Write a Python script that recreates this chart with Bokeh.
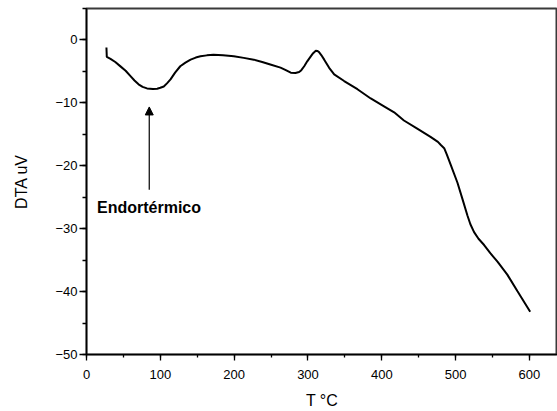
from bokeh.plotting import figure
from bokeh.models import SingleIntervalTicker, Range1d, Arrow, NormalHead, Label
from bokeh.embed import file_html
from bokeh.resources import INLINE

# DTA curve
temp_c = [27, 27.5, 32.5, 39, 46, 53, 59.6, 65, 70.5, 76, 82, 90, 95.7, 100,
          104.7, 109, 113.8, 120, 127, 134, 141, 148, 154.4, 163, 172, 185,
          199.5, 213, 226.6, 238, 249, 262.8, 270, 276.7, 283, 288, 291,
          294.9, 299, 303.8, 307, 310.6, 313, 315, 318, 322, 328.7, 335.5,
          349, 367, 385, 403, 416.7, 430, 448, 466, 476, 480, 484.5, 488,
          493.4, 502.5, 509.3, 516, 520, 525, 531, 538.6, 547, 556.7, 570,
          583.8, 601]
dta_uv = [-1.2, -2.7, -3.0, -3.5, -4.2, -4.9, -5.75, -6.45, -7.05, -7.45,
          -7.7, -7.8, -7.75, -7.6, -7.4, -6.9, -6.27, -5.2, -4.18, -3.6,
          -3.13, -2.8, -2.6, -2.45, -2.35, -2.45, -2.6, -2.85, -3.13, -3.5,
          -3.9, -4.4, -4.8, -5.2, -5.25, -5.1, -4.8, -4.18, -3.4, -2.6,
          -2.1, -1.72, -1.75, -1.93, -2.4, -3.13, -4.43, -5.48, -6.53,
          -7.83, -9.3, -10.55, -11.5, -12.8, -14.1, -15.4, -16.2, -16.7,
          -17.2, -18.2, -19.85, -22.7, -25.3, -27.9, -29.3, -30.55, -31.6,
          -32.6, -33.9, -35.25, -37.3, -39.95, -43.2]

annot_text = "Endortérmico"
annot_x = 14.2
annot_y = -26.6
arrow_x = 85
arrow_y_tail = -23.8
arrow_y_tip = -10.65

x_label = "T °C"
y_label = "DTA uV"

FONT = "Liberation Sans"

p = figure(width=557, height=411, output_backend="svg", toolbar_location=None,
           x_range=Range1d(0, 638), y_range=Range1d(-50, 5),
           min_border_left=86, min_border_right=0, min_border_top=8,
           min_border_bottom=52)
p.outline_line_color = "#3a3a3a"
p.outline_line_width = 2
p.xgrid.visible = False
p.ygrid.visible = False
p.background_fill_color = "white"
p.border_fill_color = "white"

xa = p.xaxis[0]
ya = p.yaxis[0]
xa.ticker = SingleIntervalTicker(interval=100, num_minor_ticks=2)
ya.ticker = SingleIntervalTicker(interval=10, num_minor_ticks=2)
xa.axis_label = x_label
ya.axis_label = y_label
for ax in (xa, ya):
    ax.axis_line_color = "black"
    ax.axis_line_width = 1.5
    ax.major_tick_line_color = "black"
    ax.minor_tick_line_color = "black"
    ax.major_tick_line_width = 1.3
    ax.minor_tick_line_width = 1.3
    ax.major_tick_in = 0
    ax.minor_tick_in = 0
    ax.major_label_text_font = FONT
    ax.major_label_text_font_size = "13px"
    ax.major_label_text_color = "black"
    ax.axis_label_text_font = FONT
    ax.axis_label_text_font_size = "16px"
    ax.axis_label_text_font_style = "normal"
    ax.axis_label_text_color = "black"
xa.major_tick_out = 6
xa.minor_tick_out = 3
xa.major_label_standoff = 9
xa.axis_label_standoff = 10
ya.major_tick_out = 7
ya.minor_tick_out = 4
ya.major_label_standoff = 2
ya.axis_label_standoff = 22

p.line(temp_c, dta_uv, line_color="black", line_width=2)

p.add_layout(Arrow(end=NormalHead(size=8, fill_color="black",
                                  line_color="black", line_width=1),
                   x_start=arrow_x, y_start=arrow_y_tail,
                   x_end=arrow_x, y_end=arrow_y_tip,
                   line_color="black", line_width=1.2))
p.add_layout(Label(x=annot_x, y=annot_y, text=annot_text,
                   text_font=FONT, text_font_size="16px",
                   text_font_style="bold", text_baseline="middle",
                   text_align="left", text_color="black"))

open("out.html", "w").write(file_html(p, INLINE))
